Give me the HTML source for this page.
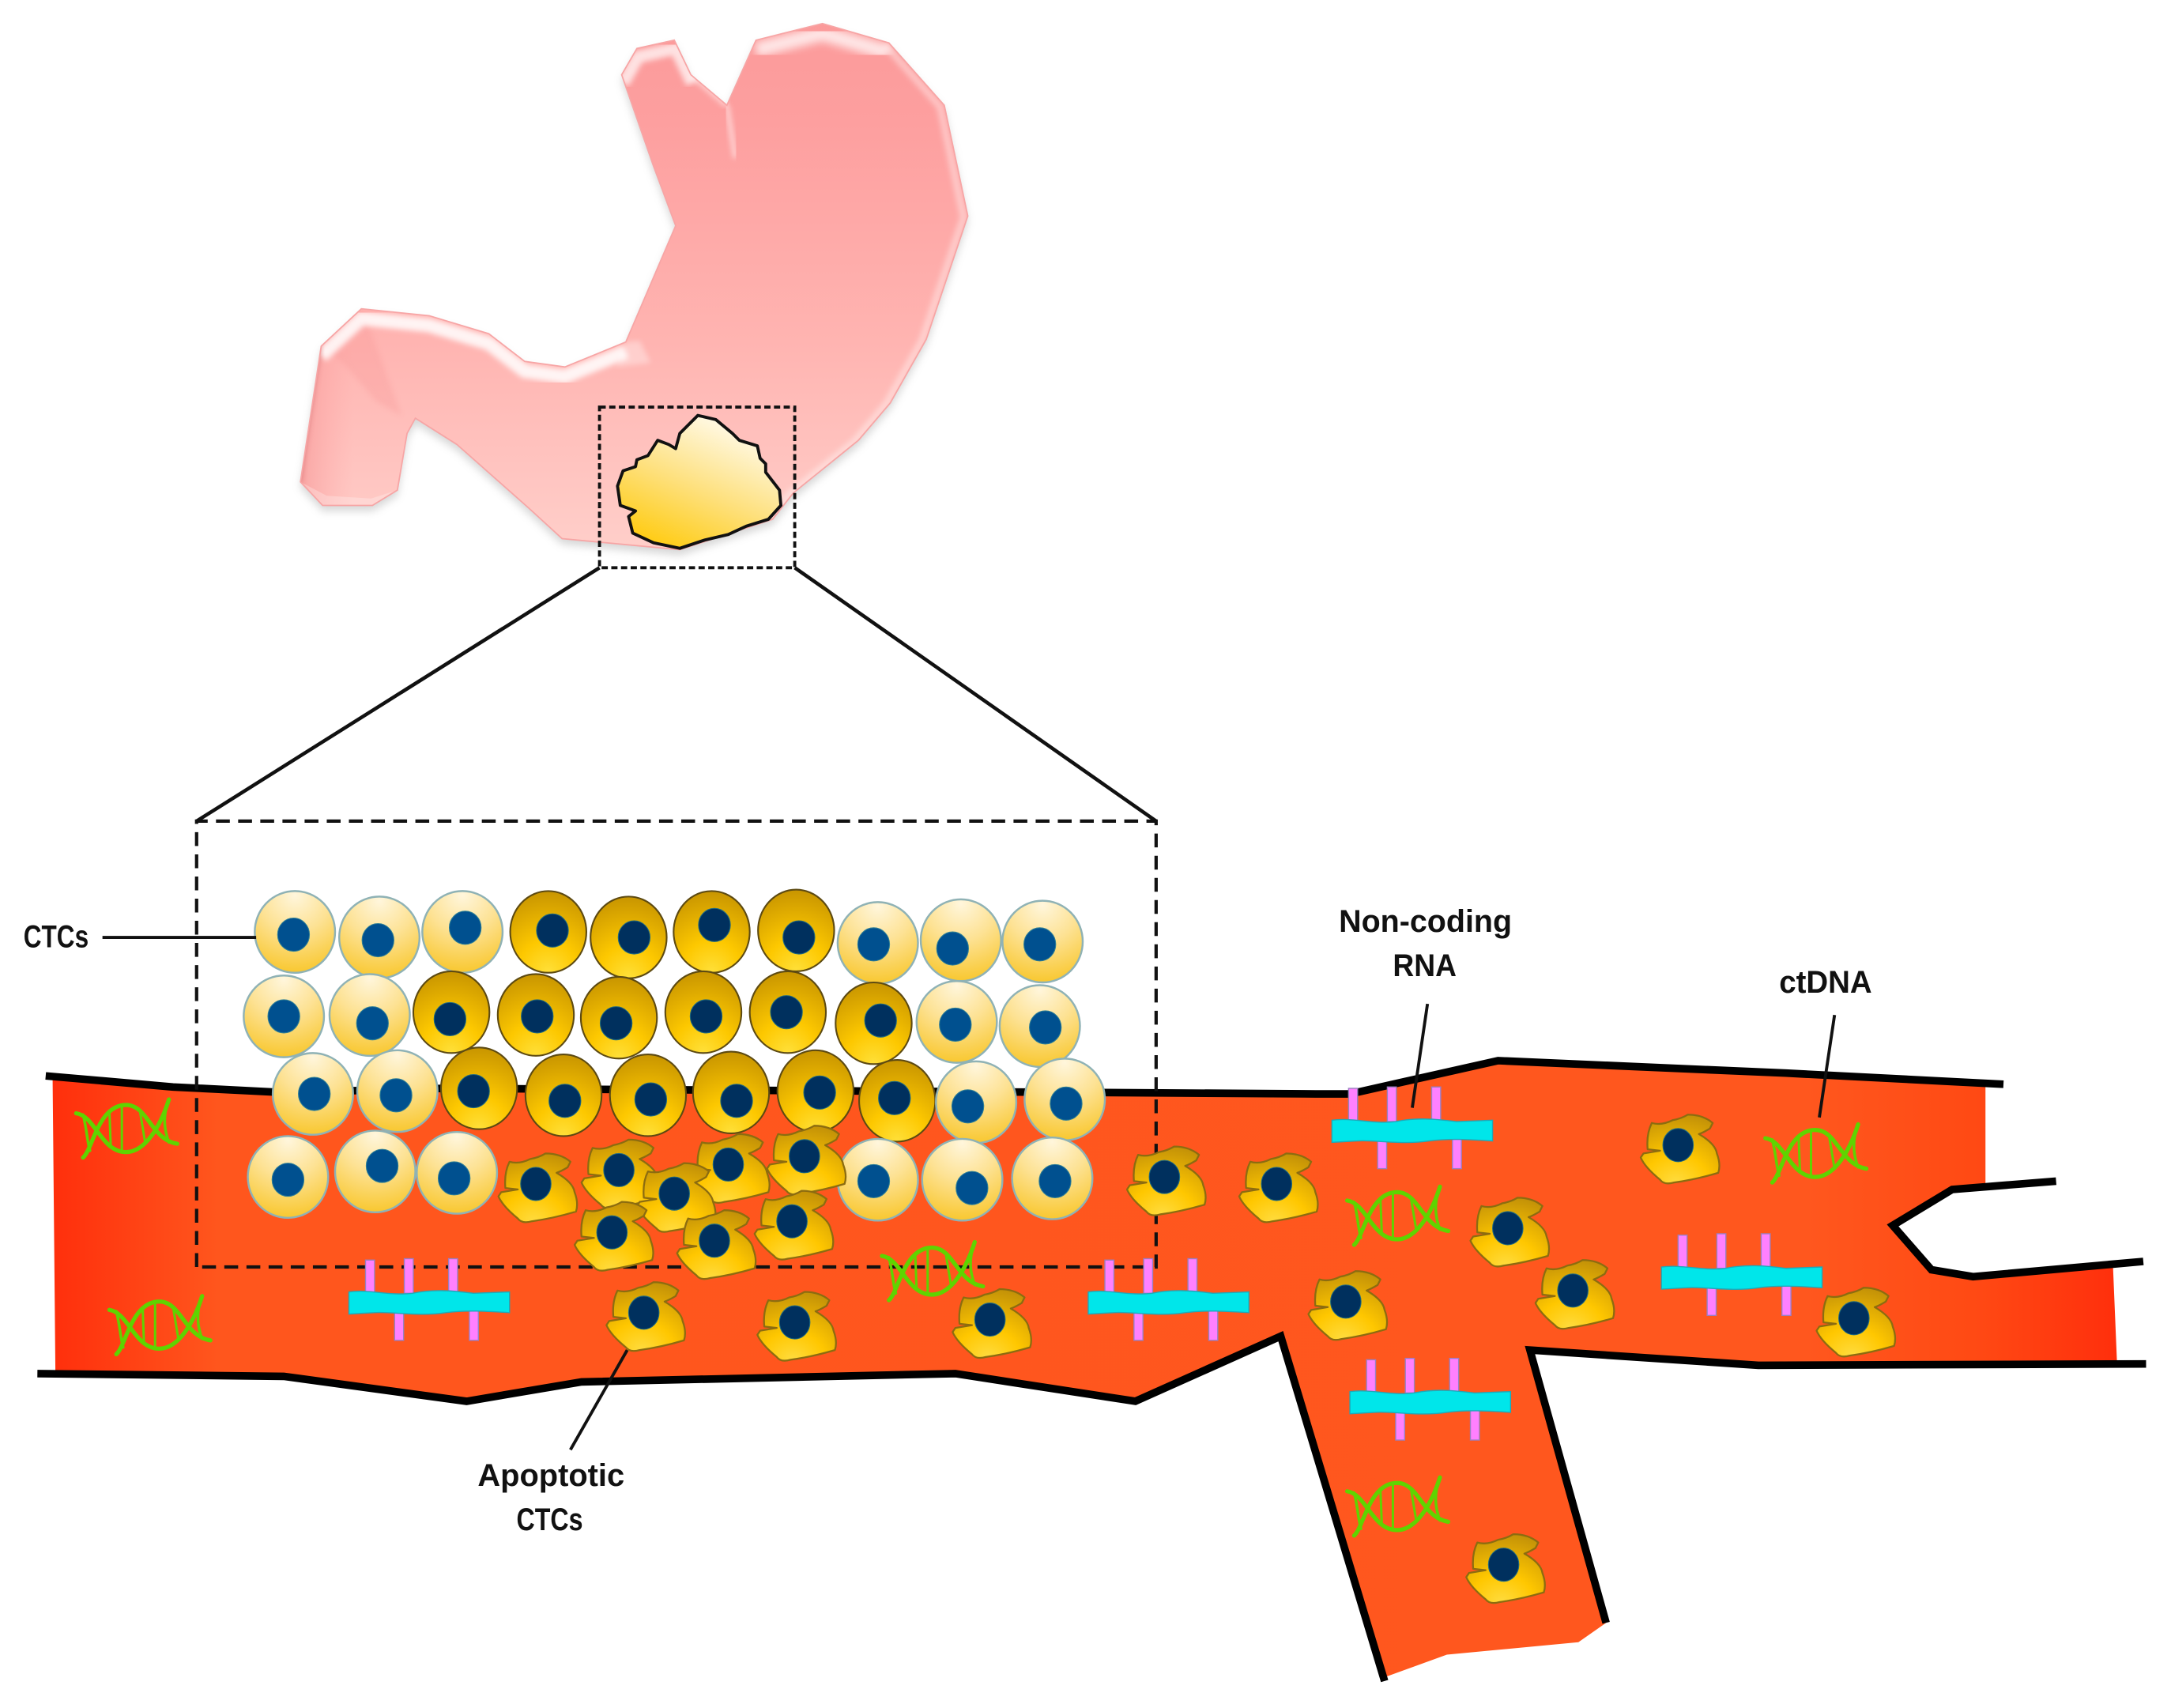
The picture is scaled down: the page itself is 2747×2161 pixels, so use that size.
<!DOCTYPE html>
<html lang="en"><head><meta charset="utf-8"><title>CTCs, ctDNA and non-coding RNA diagram</title>
<style>html,body{margin:0;padding:0;background:#fff}svg{display:block}
text{font-family:"Liberation Sans",sans-serif;font-weight:bold;font-size:23px;fill:#111}</style></head>
<body>
<svg xmlns="http://www.w3.org/2000/svg" width="2747" height="2161" viewBox="0 0 1568 1233.5">
<defs>
<linearGradient id="st" x1="0" y1="0" x2="0" y2="1"><stop offset="0" stop-color="#fb9a9a"/><stop offset=".2" stop-color="#fd9f9f"/><stop offset=".6" stop-color="#ffb4b1"/><stop offset="1" stop-color="#ffd0cb"/></linearGradient>
<linearGradient id="stl" x1="0" y1="0" x2="1" y2="0"><stop offset="0" stop-color="#e87878" stop-opacity=".75"/><stop offset=".1" stop-color="#f58f8f" stop-opacity=".45"/><stop offset=".35" stop-color="#ffa0a0" stop-opacity="0"/></linearGradient>
<linearGradient id="tu" x1=".1" y1="1" x2=".65" y2="0"><stop offset="0" stop-color="#ffc800"/><stop offset=".5" stop-color="#fee07c"/><stop offset="1" stop-color="#fffbee"/></linearGradient>
<linearGradient id="ve" x1="0" y1="0" x2="1" y2="0"><stop offset="0" stop-color="#ff2f0c"/><stop offset=".08" stop-color="#ff561d"/><stop offset=".85" stop-color="#ff571e"/><stop offset=".93" stop-color="#ff4a14"/><stop offset="1" stop-color="#ff2f0c"/></linearGradient>
<radialGradient id="lc" cx=".5" cy=".05" r="1"><stop offset="0" stop-color="#fff6dc"/><stop offset=".45" stop-color="#fde294"/><stop offset="1" stop-color="#f8c526"/></radialGradient>
<radialGradient id="dc" cx=".5" cy="1" r="1"><stop offset="0" stop-color="#ffe03a"/><stop offset=".4" stop-color="#fdc800"/><stop offset="1" stop-color="#c89500"/></radialGradient>
<radialGradient id="ac" cx=".45" cy="1" r="1.05"><stop offset="0" stop-color="#ffdc40"/><stop offset=".4" stop-color="#ffc700"/><stop offset="1" stop-color="#bf8e08"/></radialGradient>
<filter id="b3" x="-10%" y="-10%" width="120%" height="120%"><feGaussianBlur stdDeviation="3"/></filter>
<filter id="b2" x="-10%" y="-10%" width="120%" height="120%"><feGaussianBlur stdDeviation="2"/></filter>
<clipPath id="stc"><polygon points="449,54 460,35 487,29 499,54 525,76 546,29 594,17 642,31 682,76 699,156 669,245 643,291 620,318 573,356 558,375 491,397 406,389 382,367 330,321 300,302 294,313 287,354 269,365 233,365 217,348 232,250 261,223 310,228 353,241 379,261 408,265 452,247 488,163 472,120"/></clipPath>
<g id="L"><ellipse rx="29" ry="29.5" fill="url(#lc)" stroke="#8fb2b5" stroke-width="1.4"/></g>
<g id="D"><ellipse rx="27.5" ry="29.5" fill="url(#dc)" stroke="#5d4a12" stroke-width="1.2"/></g>
<ellipse id="nl" rx="11.5" ry="12" fill="#00508f" stroke="#2f7f96" stroke-width=".6"/>
<ellipse id="nd" rx="11.5" ry="12" fill="#00305e" stroke="#1f6a80" stroke-width=".6"/>
<g id="A"><path d="M-19,-16 Q-12,-14 -4,-18 Q2,-19 7,-22 Q18,-22 25,-16 L23,-12 Q18,-9 15,-8 Q27,-1 28,6 Q31,14 29,20 Q12,25 -3,27 Q-10,29 -13,25 Q-24,16 -27,9 L-25,6 L-13,4 L-22,3 Q-23,-8 -19,-16 Z" fill="url(#ac)" stroke="#8c6c10" stroke-width="1.3" stroke-linejoin="round"/><ellipse cx="0" cy="0" rx="11" ry="12" fill="#00305e" stroke="#1f6a80" stroke-width=".6"/></g>
<g id="R">
<g fill="#ff80ff" stroke="#9a7fc0" stroke-width=".8"><rect x="12" y="-23" width="6.5" height="24"/><rect x="40" y="-24" width="6.5" height="25"/><rect x="72" y="-24" width="6.5" height="25"/><rect x="33" y="13" width="6.5" height="22"/><rect x="87" y="13" width="6.5" height="22"/></g>
<path d="M0,0 C15,-2 30,3 46,1 C60,-2 75,-1 90,1 L116,0 L116,15 C100,14 85,13 70,15 C50,18 30,14 18,15 L0,16 Z" fill="#00e6ea" stroke="#1fa8b8" stroke-width=".8"/></g>
<g id="N" fill="none" stroke="#5fd400" stroke-width="3" stroke-linecap="round"><path d="M-36,-11 C-22,-9 -18,17 0,17 C14,17 25,-2 31,-21"/><path d="M-31,21 C-24,15 -20,-17 0,-17 C16,-17 18,8 37,11"/><path d="M-31,-10 C-28,2 -28,10 -26,16" stroke-width="2"/><path d="M31,-21 C26,-8 28,2 31,10" stroke-width="2"/><path d="M-12,-13 L-11,13 M10,-13 L14,11 M-3,-16 L-3,16" stroke-width="1.7"/></g>
</defs>
<rect width="1568" height="1234" fill="#fff"/>

<!-- stomach -->
<polygon transform="translate(0,4)" points="449,54 460,35 487,29 499,54 525,76 546,29 594,17 642,31 682,76 699,156 669,245 643,291 620,318 573,356 558,375 491,397 406,389 382,367 330,321 300,302 294,313 287,354 269,365 233,365 217,348 232,250 261,223 310,228 353,241 379,261 408,265 452,247 488,163 472,120" fill="#999" opacity=".4" filter="url(#b3)"/>
<g clip-path="url(#stc)">
<rect x="210" y="10" width="500" height="395" fill="url(#st)"/>
<rect x="210" y="220" width="130" height="150" fill="url(#stl)"/>
<polygon points="262,224 232,250 248,262 272,290 290,300 262,224" fill="#f59090" opacity=".25" filter="url(#b2)"/>
<polyline transform="translate(1,6)" points="449,54 460,35 487,29 499,54" fill="none" stroke="#fff" stroke-opacity=".7" stroke-width="9" filter="url(#b2)"/>
<polyline transform="translate(0,7)" points="546,29 594,17 642,31" fill="none" stroke="#fff" stroke-opacity=".75" stroke-width="11" filter="url(#b3)"/>
<polyline transform="translate(0,7)" points="232,250 261,223 310,228 353,241 379,261 408,265 452,247" fill="none" stroke="#fff" stroke-opacity=".85" stroke-width="10" filter="url(#b2)"/>
<polygon points="452,247 462,246 470,262 445,265" fill="#fff" opacity=".35" filter="url(#b2)"/>
<polyline points="525,76 531,114" fill="none" stroke="#fff" stroke-opacity=".6" stroke-width="3" filter="url(#b2)"/>
<polyline points="499,54 525,76" fill="none" stroke="#fff" stroke-opacity=".5" stroke-width="4" filter="url(#b2)"/>
<polyline transform="translate(-3,1)" points="642,31 682,76 699,156 669,245 643,291 620,318 573,356 558,375" fill="none" stroke="#fff" stroke-opacity=".4" stroke-width="5" filter="url(#b2)"/>
<polygon points="217,348 232,250 225,250 210,348" fill="#c95f63" opacity=".6" filter="url(#b2)"/>
<polygon points="217,348 233,365 269,365 287,354 268,360 236,358" fill="#fff" opacity=".25"/>
</g>
<polygon points="449,54 460,35 487,29 499,54 525,76 546,29 594,17 642,31 682,76 699,156 669,245 643,291 620,318 573,356 558,375 491,397 406,389 382,367 330,321 300,302 294,313 287,354 269,365 233,365 217,348 232,250 261,223 310,228 353,241 379,261 408,265 452,247 488,163 472,120" fill="none" stroke="#f7a5a5" stroke-width="1"/>
<polygon points="488,324 491,313 504,300 517,303 529,313 534,318 547,322 549,331 553,335 553,341 563,354 564,365 555,375 539,380 526,386 509,390 491,396 472,392 457,385 454,373 459,369 448,365 446,351 450,340 459,337 460,332 468,329 475,318 483,321" fill="url(#tu)" stroke="#111" stroke-width="2.2" stroke-linejoin="round"/>

<!-- zoom indicator -->
<rect x="433" y="294" width="141" height="116" fill="none" stroke="#111" stroke-width="2.2" stroke-dasharray="4.5 2.5"/>
<g stroke="#111" stroke-width="2.6" fill="none"><line x1="433" y1="410" x2="142" y2="593"/><line x1="574" y1="410" x2="835" y2="593"/></g>

<!-- vessel -->
<polygon points="38,779 125,785 205,789 320,786 950,790 975,790 1082,766 1290,775 1434,783 1434,856 1410,859 1367,885 1395,917 1425,922 1526,912 1529,984 1270,986 1105,975 1160,1172 1140,1186 1045,1195 998,1212 925,965 820,1012 690,992 420,998 337,1012 205,994 40,990" fill="url(#ve)"/>
<g fill="none" stroke="#000" stroke-width="5.5" stroke-linejoin="miter">
<polyline points="33,777 125,785 205,789 320,786 950,790 975,790 1082,766 1290,775 1447,783"/>
<polyline points="1485,853 1410,859 1367,885 1395,917 1425,922 1548,911"/>
<polyline points="1550,985 1270,986 1105,975 1160,1172"/>
<polyline points="27,992 205,994 337,1012 420,998 690,992 820,1012 925,965 1000,1214"/>
</g>

<!-- big dashed box -->
<path d="M142,915 V593 H835 V915 Z" fill="none" stroke="#111" stroke-width="2.4" stroke-dasharray="10 6"/>

<!-- DNA -->
<use href="#N" x="91" y="815"/><use href="#N" x="115" y="957"/><use href="#N" x="673" y="918"/><use href="#N" x="1009" y="878"/><use href="#N" x="1311" y="833"/><use href="#N" x="1009" y="1088"/>

<!-- RNA -->
<use href="#R" x="252" y="933"/><use href="#R" x="786" y="933"/><use href="#R" x="962" y="809"/><use href="#R" x="975" y="1005"/><use href="#R" x="1200" y="915"/>

<!-- normal cells -->
<use href="#L" x="213" y="673"/><use href="#nl" x="212" y="675"/>
<use href="#L" x="274" y="677"/><use href="#nl" x="273" y="679"/>
<use href="#L" x="334" y="673"/><use href="#nl" x="336" y="670"/>
<use href="#L" x="634" y="681"/><use href="#nl" x="631" y="682"/>
<use href="#L" x="694" y="679"/><use href="#nl" x="688" y="685"/>
<use href="#L" x="753" y="680"/><use href="#nl" x="751" y="682"/>
<use href="#L" x="205" y="734"/><use href="#nl" x="205" y="734"/>
<use href="#L" x="267" y="733"/><use href="#nl" x="269" y="739"/>
<use href="#L" x="691" y="738"/><use href="#nl" x="690" y="740"/>
<use href="#L" x="751" y="741"/><use href="#nl" x="755" y="742"/>

<use href="#D" x="396" y="673"/><use href="#nd" x="399" y="672"/>
<use href="#D" x="454" y="677"/><use href="#nd" x="458" y="677"/>
<use href="#D" x="514" y="673"/><use href="#nd" x="516" y="668"/>
<use href="#D" x="575" y="672"/><use href="#nd" x="577" y="677"/>
<use href="#D" x="326" y="731"/><use href="#nd" x="325" y="736"/>
<use href="#D" x="387" y="733"/><use href="#nd" x="388" y="734"/>
<use href="#D" x="447" y="735"/><use href="#nd" x="445" y="739"/>
<use href="#D" x="508" y="731"/><use href="#nd" x="510" y="734"/>
<use href="#D" x="569" y="731"/><use href="#nd" x="568" y="731"/>
<use href="#D" x="631" y="739"/><use href="#nd" x="636" y="737"/>

<use href="#L" x="226" y="790"/><use href="#nl" x="227" y="790"/>
<use href="#L" x="287" y="788"/><use href="#nl" x="286" y="791"/>
<use href="#D" x="346" y="786"/><use href="#nd" x="342" y="788"/>
<use href="#D" x="407" y="791"/><use href="#nd" x="408" y="795"/>
<use href="#D" x="468" y="791"/><use href="#nd" x="470" y="794"/>
<use href="#D" x="528" y="789"/><use href="#nd" x="532" y="795"/>
<use href="#D" x="589" y="788"/><use href="#nd" x="592" y="789"/>
<use href="#D" x="648" y="795"/><use href="#nd" x="646" y="793"/>
<use href="#L" x="705" y="796"/><use href="#nl" x="699" y="799"/>
<use href="#L" x="769" y="794"/><use href="#nl" x="770" y="797"/>

<use href="#L" x="208" y="850"/><use href="#nl" x="208" y="852"/>
<use href="#L" x="271" y="846"/><use href="#nl" x="276" y="842"/>
<use href="#L" x="330" y="847"/><use href="#nl" x="328" y="851"/>
<use href="#L" x="634" y="852"/><use href="#nl" x="631" y="853"/>
<use href="#L" x="695" y="852"/><use href="#nl" x="702" y="858"/>
<use href="#L" x="760" y="851"/><use href="#nl" x="762" y="853"/>

<!-- apoptotic cells -->
<use href="#A" x="387" y="855"/><use href="#A" x="447" y="845"/><use href="#A" x="526" y="841"/><use href="#A" x="581" y="835"/><use href="#A" x="487" y="862"/><use href="#A" x="442" y="890"/><use href="#A" x="572" y="882"/><use href="#A" x="516" y="896"/>
<use href="#A" x="465" y="948"/><use href="#A" x="574" y="955"/><use href="#A" x="715" y="953"/><use href="#A" x="841" y="850"/><use href="#A" x="922" y="855"/><use href="#A" x="972" y="940"/><use href="#A" x="1089" y="887"/><use href="#A" x="1136" y="932"/><use href="#A" x="1212" y="827"/><use href="#A" x="1339" y="952"/><use href="#A" x="1086" y="1130"/>

<!-- leader lines -->
<g stroke="#111" stroke-width="2.2" fill="none">
<line x1="74" y1="677" x2="185" y2="677"/>
<line x1="1031" y1="725" x2="1020" y2="800"/>
<line x1="1325" y1="733" x2="1314" y2="807"/>
<line x1="453" y1="975" x2="412" y2="1047"/>
</g>

<!-- labels -->
<text x="17" y="684" textLength="47" lengthAdjust="spacingAndGlyphs">CTCs</text>
<text x="967" y="673" textLength="125" lengthAdjust="spacingAndGlyphs">Non-coding</text>
<text x="1006" y="705" textLength="46" lengthAdjust="spacingAndGlyphs">RNA</text>
<text x="1285" y="717" textLength="67" lengthAdjust="spacingAndGlyphs">ctDNA</text>
<text x="345" y="1073" textLength="106" lengthAdjust="spacingAndGlyphs">Apoptotic</text>
<text x="373" y="1105" textLength="48" lengthAdjust="spacingAndGlyphs">CTCs</text>
</svg>
</body></html>
